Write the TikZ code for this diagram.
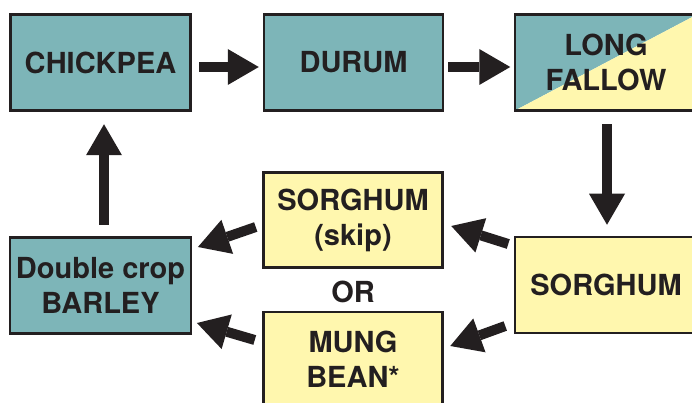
\documentclass[tikz,border=0pt]{standalone}
\usepackage{fontspec}
\setmainfont{TeX Gyre Heros}
\usetikzlibrary{arrows.meta}
\definecolor{cteal}{RGB}{125,181,184}
\definecolor{cyellow}{RGB}{255,247,174}
\definecolor{cink}{RGB}{35,31,32}
\begin{document}
\begin{tikzpicture}[x=1pt,y=-1pt,
  box/.style={draw=cink, line width=2.5pt, minimum width=180pt, minimum height=96pt,
    inner sep=0pt, align=center, text=cink, font=\fontsize{29}{35}\selectfont\bfseries},
  tealbox/.style={box, fill=cteal},
  yellowbox/.style={box, fill=cyellow},
  label/.style={text=cink, font=\fontsize{29}{35}\selectfont\bfseries},
  flow/.style={draw=cink, line width=10pt, -{Triangle[length=31pt,width=36pt,line width=0pt]}}
]
\useasboundingbox (0,0) rectangle (692,403);
\clip (0,0) rectangle (692,403);

\node[tealbox] (chick) at (100.5,62.5) {CHICKPEA};
\node[tealbox, minimum width=179pt] (durum) at (353.5,62.5) {DURUM};
\node[box, minimum width=182pt, path picture={
    \fill[cteal] (path picture bounding box.north west) -- (path picture bounding box.north east)
       -- (path picture bounding box.south west) -- cycle;
    \fill[cyellow] (path picture bounding box.north east) -- (path picture bounding box.south east)
       -- (path picture bounding box.south west) -- cycle;}]
  (fallow) at (606,62.5) {LONG\\FALLOW};
\node[yellowbox, minimum width=182pt] (sorg) at (606,285) {SORGHUM};
\node[yellowbox, minimum width=179pt, minimum height=95pt] (skip) at (353,220) {SORGHUM\\(skip)};
\node[yellowbox, minimum width=179pt, minimum height=94pt] (mung) at (353,359) {MUNG\\BEAN*};
\node[tealbox, minimum width=181pt] (barley) at (100.5,285.5) {Double crop\\BARLEY};
\node[label] (or) at (353,292) {OR};

\draw[flow] ([shift={(7.7,4.5)}]chick.east) -- ([shift={(-4,4.5)}]durum.west);
\draw[flow] ([shift={(4,4.5)}]durum.east) -- ([shift={(-3.5,4.5)}]fallow.west);
\draw[flow] ([shift={(1,12.5)}]fallow.south) -- ([shift={(1,-11)}]sorg.north);
\draw[flow] ([shift={(-5.5,-41)}]sorg.west) -- ([shift={(7.5,6)}]skip.east);
\draw[flow] ([shift={(-8.5,41)}]sorg.west) -- ([shift={(6.5,-13)}]mung.east);
\draw[flow] ([shift={(-6.5,7)}]skip.west) -- ([shift={(5.7,-38.5)}]barley.east);
\draw[flow] ([shift={(-7.5,-19)}]mung.west) -- ([shift={(4.7,37.5)}]barley.east);
\draw[flow] ([shift={(3.5,-11.5)}]barley.north) -- ([shift={(3.5,12.5)}]chick.south);
\end{tikzpicture}
\end{document}
